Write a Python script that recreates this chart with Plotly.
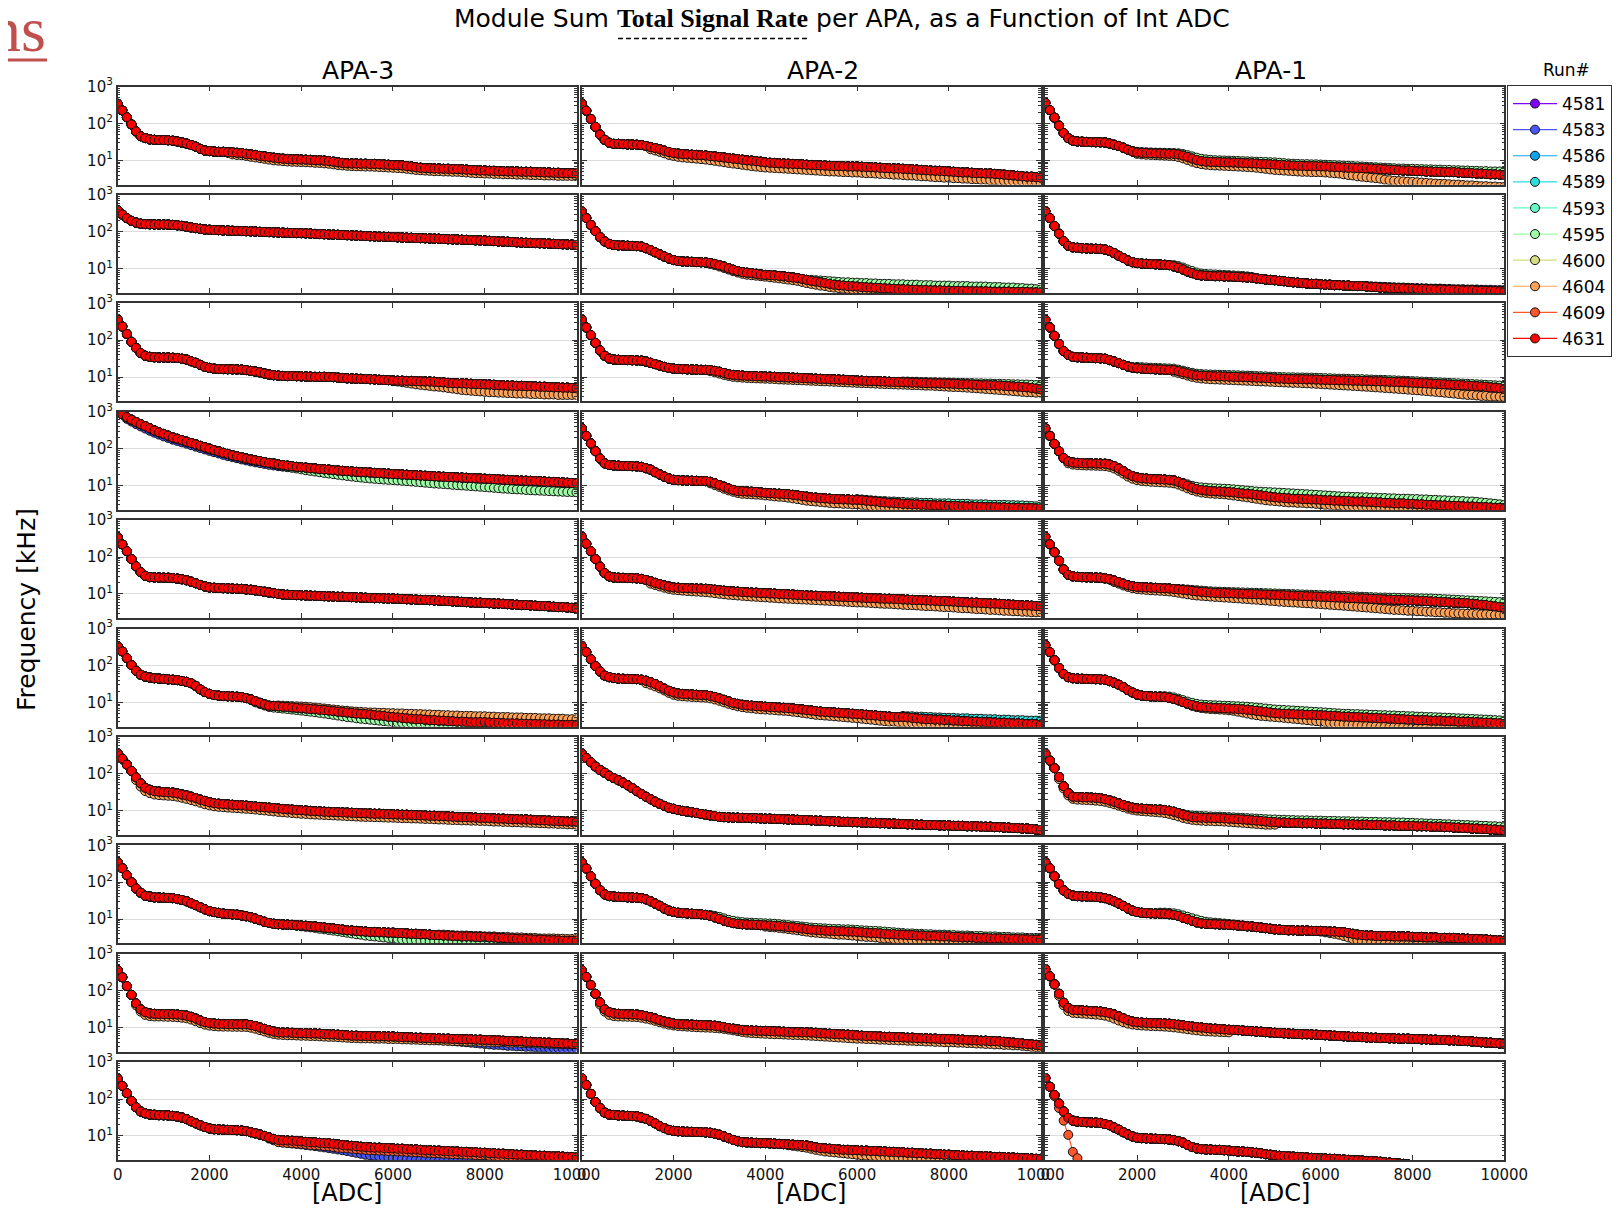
import plotly.graph_objects as go

W, H = 1621, 1214          # browser window
PAGE_MARGIN = 8            # default body margin of the page written by plotly
FIG_W, FIG_H = W - 2 * PAGE_MARGIN, H - 2 * PAGE_MARGIN
ADC = list(range(0, 10001, 100))
RUNS = ["4581", "4583", "4586", "4589", "4593", "4595", "4600", "4604", "4609", "4631"]
RUN_COLORS = ["#8000ff", "#4757fb", "#0ea4f0", "#2adddd", "#63fbc3",
              "#9cfba4", "#d4dd80", "#ffa256", "#ff562c", "#ff0000"]
APA_NAMES = ["APA-3", "APA-2", "APA-1"]
X_TICKS = [0, 2000, 4000, 6000, 8000, 10000]
X_TICK_TEXT = ["0", "2000", "4000", "6000", "8000", "10000"]
Y_TICKS = [10, 100, 1000]
Y_TICK_TEXT = ["10<sup>1</sup>", "10<sup>2</sup>", "10<sup>3</sup>"]
Y_MINOR = [2, 3, 4, 5, 6, 7, 8, 9, 20, 30, 40, 50, 60, 70, 80, 90,
           200, 300, 400, 500, 600, 700, 800, 900]

# ---------------- APA-3 (left column), run 4631 ----------------
A3R1_4631 = [340,226,147,94,61,45,40,37,36,35.5,35.5,35,34,32.5,30.5,28.5,26,23.5,20.5,18.5,17.8,
17.3,17,17,16.5,16.5,16,15.8,15,14.5,14,13.2,12.8,12.3,11.8,11.4,11.1,10.9,10.7,10.7,10.5,
10.4,10.3,10.1,10,9.8,9.6,9.2,8.8,8.5,8.3,8.2,8.2,8.1,8.1,8,8,7.9,7.7,7.6,7.5,
7.4,7.3,7.0,6.8,6.5,6.3,6.2,6.1,6.0,6.0,5.9,5.9,5.8,5.8,5.7,5.6,5.5,5.4,5.3,5.3,
5.2,5.2,5.1,5.1,5.0,5.0,5.0,4.9,4.9,4.9,4.8,4.8,4.7,4.7,4.6,4.6,4.5,4.5,4.5,4.4]
A3R2_4631 = [380,295,235,199,178,166,162,160,159,158,158,157,154,150,145,138,132,126,121,116,114,
112,111,109,108,107,106,105,104,103,102,100,99,98,97,96,95,94,93,92.5,92,
91,90,88,87,86,85,84,83,82,81,80,79,78,77,76,75,74,73.5,73,72,
71,70,69.5,69,68,67.5,67,66,65.5,65,64,63,62.5,62,61,60.5,60,59,58.5,58,
57,56,55,54.5,54,53,52,51,50.5,50,49.5,49,48.5,48,47,46.5,46,45.5,45,44]
A3R3_4631 = [360,236,148,91,62,45,38,35.5,34.5,34,34,34,33.5,33,31.5,30,27,24.5,21.5,19,17.8,
17,16.6,16.5,16.4,16.3,16.2,16,15.5,14.8,14.2,13.5,12.6,11.8,11.3,11,10.8,10.7,10.7,10.6,10.5,
10.4,10.3,10.2,10.2,10.2,10.1,10,9.7,9.5,9.3,9.2,9.1,9.0,8.9,8.8,8.7,8.5,8.4,8.3,8.1,
8.0,8.0,7.9,7.9,7.8,7.7,7.6,7.6,7.5,7.3,7.2,7.0,6.9,6.8,6.8,6.7,6.6,6.5,6.5,6.4,
6.3,6.2,6.1,6.0,5.9,5.9,5.8,5.8,5.7,5.7,5.6,5.5,5.5,5.4,5.3,5.3,5.2,5.2,5.1,5.0]
A3R4_4631 = [930,850,710,610,525,460,405,355,310,277,250,224,200,185,170,155,142,130,119,109,100,
91,84,77,72,66,62,58,54,51,48,46,43,41,39.5,37.5,36,34.5,33.5,32,31.3,
30.5,29.5,29,28,27.5,27,26,25.5,25,24.5,24,23.5,23,22.8,22.5,22,21.7,21.3,21,20.5,
20.2,19.9,19.6,19.3,19,18.7,18.4,18.1,17.8,17.5,17.3,17.1,16.9,16.6,16.4,16.2,16,15.7,15.5,15.3,
15.1,14.9,14.7,14.4,14.2,14,13.8,13.6,13.5,13.4,13.2,13,12.8,12.6,12.5,12.3,12.1,11.9,11.7,11.5]
A3R5_4631 = [345,220,144,88,56,39,31,28.5,28,27.8,27.6,27.5,27,26,25,23.5,21.5,19.5,17.5,16,15,
14.7,14.5,14.3,14.2,14,13.8,13.7,13.3,13,12.5,12,11.5,11,10.5,10,9.7,9.5,9.4,9.3,9.2,
9.1,9,8.9,8.8,8.7,8.6,8.5,8.4,8.4,8.3,8.2,8.1,8.0,7.9,7.8,7.7,7.7,7.6,7.5,7.5,
7.4,7.3,7.2,7.1,7.0,6.9,6.9,6.8,6.7,6.6,6.5,6.4,6.3,6.2,6.1,6.0,5.9,5.8,5.8,5.7,
5.6,5.5,5.5,5.4,5.3,5.2,5.1,5.0,5.0,4.9,4.8,4.7,4.7,4.6,4.5,4.4,4.4,4.3,4.2,4.1]
A3R6_4631 = [330,240,158,102,72,56,50,47,45,44,43,42,41,40,38,36,33,28,22.5,19,17,
15.8,15.2,14.8,14.6,14.4,14.2,13.9,13,12,10.7,9.7,8.8,8.1,8,7.8,7.6,7.5,7.3,7.1,6.9,
6.8,6.6,6.5,6.3,6.2,6.0,5.8,5.6,5.5,5.3,5.2,5.0,4.9,4.8,4.7,4.5,4.4,4.3,4.1,4.0,
3.9,3.8,3.7,3.6,3.5,3.5,3.4,3.3,3.3,3.2,3.2,3.1,3.1,3.0,3.0,2.95,2.9,2.9,2.9,2.9,
2.85,2.8,2.8,2.75,2.7,2.7,2.7,2.65,2.6,2.6,2.6,2.55,2.55,2.5,2.5,2.5,2.45,2.45,2.45,2.45]
A3R7_4631 = [355,258,177,120,80,55,42,37,34,33,32,31.5,31,29.5,27.5,26,24,22,20,18.5,17,
16,15.5,15.2,14.8,14.5,14.2,14,13.7,13.3,13,12.7,12.4,12.1,11.8,11.5,11.2,10.9,10.7,10.5,10.3,
10.1,9.9,9.7,9.6,9.4,9.3,9.2,9.1,9,8.9,8.8,8.7,8.6,8.5,8.4,8.3,8.3,8.2,8.1,8.0,
7.9,7.8,7.8,7.7,7.6,7.5,7.4,7.3,7.3,7.2,7.1,7.0,6.9,6.8,6.7,6.7,6.6,6.5,6.4,6.4,
6.3,6.2,6.1,6.1,6.0,5.9,5.9,5.8,5.8,5.7,5.6,5.5,5.5,5.4,5.3,5.3,5.2,5.1,5.1,5.0]
A3R8_4631 = [348,240,155,100,68,52,43,41,39,38.5,38,37.5,37,35,33,30.5,27,24,21,18.5,16.5,
15.5,14.8,14.1,13.8,13.5,13.2,12.6,12,11.3,10.3,9.4,8.5,7.9,7.5,7.3,7.2,7.1,7.0,6.8,6.7,
6.6,6.4,6.3,6.1,5.9,5.7,5.6,5.4,5.2,5.0,4.9,4.8,4.7,4.6,4.5,4.5,4.4,4.4,4.3,4.3,
4.2,4.2,4.1,4.0,4.0,3.9,3.9,3.8,3.7,3.7,3.6,3.6,3.5,3.5,3.4,3.4,3.4,3.3,3.3,3.3,
3.2,3.2,3.1,3.1,3.0,3.0,2.95,2.9,2.9,2.85,2.8,2.8,2.75,2.7,2.7,2.65,2.6,2.6,2.6,2.6]
A3R9_4631 = [355,230,133,77,45,31,26,24,23.5,23.3,23.2,23.1,23,22.5,22,21,19.5,17.5,15.5,14,13.2,
12.8,12.6,12.5,12.4,12.4,12.3,12.3,12.3,11.7,11,10,9.2,8.4,7.8,7.4,7.3,7.3,7.2,7.1,7.0,
7.0,6.9,6.9,6.8,6.7,6.6,6.5,6.4,6.3,6.2,6.0,6.0,5.9,5.9,5.9,5.8,5.8,5.8,5.7,5.7,
5.6,5.5,5.5,5.4,5.3,5.3,5.2,5.2,5.1,5.1,5.0,5.0,4.9,4.9,4.8,4.8,4.8,4.7,4.7,4.6,
4.6,4.5,4.5,4.4,4.3,4.3,4.2,4.2,4.1,4.1,4.0,4.0,3.9,3.9,3.8,3.8,3.7,3.7,3.6,3.6]
A3R10_4631 = [355,228,145,89,60,46,41,38,37.5,36.5,36.3,36,35,33.5,31.5,28.5,25,22,19.5,17.5,16,
15.2,15,14.8,14.6,14.5,14.3,14,13.5,12.6,11.8,10.9,10,9.1,8.3,7.8,7.6,7.5,7.4,7.3,7.1,
6.9,6.8,6.7,6.5,6.4,6.3,6.1,5.9,5.7,5.5,5.4,5.3,5.1,5.0,4.9,4.8,4.8,4.7,4.7,4.6,
4.5,4.5,4.4,4.3,4.3,4.2,4.1,4.1,4.0,4.0,3.9,3.9,3.8,3.8,3.7,3.7,3.6,3.6,3.5,3.5,
3.4,3.4,3.3,3.3,3.2,3.2,3.1,3.1,3.0,3.0,2.95,2.9,2.9,2.85,2.8,2.8,2.75,2.7,2.7,2.6]

# ---------------- APA-2 (middle column), run 4631 ----------------
A2R1_4631 = [345,222,132,81,50,36,30,28,28,27.5,27,26.8,26.5,26,24.5,23,21.5,20,18.3,16.8,15.8,
15.2,14.8,14.5,14.2,14,13.8,13.5,13,12.7,12.3,11.9,11.5,11.1,10.8,10.4,10,9.8,9.5,9.2,8.8,
8.6,8.5,8.3,8.2,8.1,8.0,7.9,7.8,7.6,7.5,7.4,7.3,7.2,7.1,7.0,7.0,6.9,6.8,6.8,6.8,
6.7,6.6,6.5,6.4,6.3,6.2,6.1,6.0,6.0,5.9,5.8,5.7,5.6,5.5,5.4,5.3,5.2,5.2,5.1,5.0,
4.9,4.8,4.7,4.7,4.6,4.5,4.5,4.4,4.4,4.3,4.2,4.1,4.0,3.9,3.8,3.7,3.6,3.6,3.5,3.4]
A2R2_4631 = [360,236,154,104,72,55,47,44,43,42.5,42,41.5,41,40,36,32,28,24.5,21.5,19,17.2,
16.2,15.8,15.6,15.4,15.2,15,14.8,14.3,13.5,12.4,11.4,10.3,9.4,8.6,8.1,7.8,7.6,7.3,7.0,6.8,
6.7,6.6,6.4,6.2,6.0,5.8,5.6,5.3,5.0,4.7,4.5,4.3,4.1,3.9,3.7,3.6,3.5,3.4,3.35,3.3,
3.2,3.15,3.1,3.05,3.0,2.95,2.9,2.85,2.8,2.8,2.75,2.7,2.7,2.65,2.65,2.6,2.6,2.6,2.55,2.55,
2.5,2.5,2.5,2.5,2.45,2.45,2.45,2.45,2.4,2.4,2.4,2.4,2.4,2.35,2.35,2.35,2.35,2.3,2.3,2.3]
A2R3_4631 = [360,222,138,85,53,38,32,30,29.5,29.2,29,28.7,28.4,28,26.5,24.5,22.5,20.5,19,17.8,17,
16.7,16.5,16.3,16.1,16,15.8,15.7,15.5,14.8,14,13,12,11.5,11.2,11,10.8,10.7,10.6,10.5,10.4,
10.3,10.2,10.0,9.9,9.8,9.7,9.6,9.5,9.4,9.2,9.1,9.0,8.9,8.8,8.7,8.6,8.5,8.4,8.3,8.1,
8.0,7.9,7.8,7.8,7.7,7.6,7.5,7.4,7.4,7.3,7.2,7.1,7.1,7.0,6.9,6.9,6.8,6.8,6.7,6.7,
6.6,6.5,6.4,6.4,6.3,6.2,6.1,6.1,6.0,6.0,5.9,5.8,5.7,5.6,5.5,5.4,5.3,5.1,4.9,4.7]
A2R4_4631 = [355,222,138,85,54,40,36,35,34.5,34,33.8,33.5,33,32,29.5,27,23,20,17.5,15.5,14.3,
14,13.8,13.6,13.5,13.4,13.3,13.2,12.6,11.5,10.3,9.3,8.3,7.6,7.1,7.0,6.9,6.8,6.7,6.5,6.3,
6.2,6.1,6.0,5.9,5.8,5.6,5.4,5.2,5.0,4.8,4.7,4.6,4.5,4.4,4.3,4.3,4.2,4.2,4.1,4.1,
4.0,3.9,3.8,3.7,3.6,3.5,3.4,3.4,3.3,3.2,3.2,3.1,3.1,3.0,3.0,2.95,2.9,2.9,2.85,2.8,
2.8,2.75,2.75,2.7,2.7,2.65,2.65,2.6,2.6,2.6,2.55,2.55,2.5,2.5,2.5,2.45,2.45,2.45,2.4,2.4]
A2R5_4631 = [355,230,144,88,55,37,30,28,27.5,27.3,27,26.8,26.5,25.5,24,22,20,18.5,17,15.8,15,
14.7,14.5,14.3,14.1,14,13.9,13.8,13.5,13,12.6,12.2,11.9,11.7,11.5,11.3,11.1,10.9,10.8,10.6,10.5,
10.3,10.2,10.0,9.9,9.7,9.6,9.4,9.3,9.1,9.0,8.9,8.8,8.7,8.6,8.5,8.4,8.3,8.2,8.1,8.0,
7.9,7.8,7.7,7.6,7.5,7.4,7.4,7.3,7.2,7.1,7.0,6.9,6.8,6.8,6.7,6.6,6.5,6.4,6.4,6.3,
6.2,6.1,6.0,5.9,5.8,5.8,5.7,5.6,5.5,5.5,5.4,5.3,5.2,5.1,5.0,4.9,4.9,4.8,4.7,4.6]
A2R6_4631 = [340,230,148,96,69,53,48,45.5,44,43.5,43,42.7,42.5,41,38.5,35,31.5,27.5,23.5,20.5,18.5,
17.3,16.9,16.6,16.3,16,15.8,15.6,14.9,14,12.8,11.7,10.6,9.6,9.1,8.6,8.3,8.1,7.9,7.8,7.6,
7.5,7.4,7.2,7.1,7.0,6.8,6.6,6.4,6.2,6.0,5.8,5.6,5.5,5.4,5.3,5.2,5.1,5.0,4.9,4.8,
4.7,4.6,4.5,4.4,4.3,4.2,4.1,4.0,4.0,4.0,3.9,3.8,3.7,3.6,3.5,3.5,3.4,3.4,3.3,3.3,
3.2,3.2,3.1,3.1,3.0,3.0,2.95,2.9,2.9,2.85,2.8,2.8,2.75,2.7,2.7,2.65,2.6,2.6,2.55,2.5]
A2R7_4631 = [355,268,206,158,127,107,89,77,67,58,49,41,34,28.5,24,20.5,17.6,15.4,13.5,12,11.3,
10.5,9.9,9.5,9.1,8.7,8.2,7.8,7.5,7.2,6.8,6.7,6.6,6.5,6.5,6.4,6.4,6.3,6.3,6.2,6.1,
6.1,6.0,6.0,5.9,5.8,5.8,5.7,5.6,5.6,5.5,5.4,5.4,5.3,5.2,5.2,5.1,5.0,5.0,4.9,4.9,
4.8,4.8,4.7,4.7,4.6,4.6,4.5,4.5,4.4,4.4,4.3,4.3,4.2,4.2,4.1,4.1,4.1,4.0,4.0,4.0,
3.9,3.9,3.9,3.8,3.8,3.8,3.7,3.7,3.7,3.6,3.6,3.5,3.5,3.4,3.4,3.3,3.3,3.2,3.1,3.0]
A2R8_4631 = [348,236,145,91,61,47,42,41,40,39.5,39,38.5,38,37,34.5,30.5,26.5,23,19.5,17,15.8,
14.9,14.6,14.3,14,13.8,13.6,13,12.2,11.2,10.2,9.1,8.4,7.8,7.5,7.3,7.2,7.1,7.0,6.9,6.8,
6.7,6.6,6.5,6.3,6.1,6.0,5.8,5.6,5.4,5.2,5.1,5.0,4.9,4.8,4.8,4.7,4.7,4.6,4.6,4.5,
4.4,4.3,4.2,4.2,4.1,4.0,3.9,3.9,3.8,3.8,3.7,3.7,3.6,3.6,3.5,3.5,3.5,3.4,3.4,3.4,
3.3,3.3,3.2,3.2,3.2,3.1,3.1,3.1,3.0,3.0,3.0,2.95,2.95,2.9,2.9,2.85,2.85,2.8,2.8,2.8]
A2R9_4631 = [360,236,142,82,48,31,26,24,23.5,23.2,23,22.7,22.5,21.5,20.3,19,17.5,15.9,14.5,13.6,12.8,
12.5,12.3,12.1,12,11.8,11.7,11.5,11.4,11.2,10.7,10.2,9.7,9.3,8.9,8.6,8.4,8.3,8.2,8.1,8.1,
8.0,7.9,7.8,7.7,7.6,7.5,7.5,7.4,7.4,7.3,7.2,7.0,6.9,6.8,6.7,6.6,6.5,6.4,6.3,6.1,
6.0,5.9,5.9,5.8,5.7,5.6,5.6,5.5,5.5,5.4,5.3,5.3,5.2,5.1,5.1,5.0,5.0,4.9,4.9,4.9,
4.8,4.7,4.7,4.6,4.5,4.5,4.4,4.4,4.3,4.3,4.2,4.1,4.0,3.9,3.8,3.7,3.6,3.5,3.4,3.3]
A2R10_4631 = [370,240,138,83,57,43,38,37,36,35.5,35,34.5,34,31.5,29,25.5,22,18.5,16.3,14.6,13.7,
13.4,13.2,13,12.9,12.8,12.7,12.5,12.2,11.5,10.8,9.7,8.7,7.8,7.2,6.8,6.7,6.6,6.5,6.4,6.4,
6.3,6.2,6.1,6.0,5.9,5.8,5.7,5.6,5.5,5.2,4.9,4.7,4.6,4.5,4.4,4.3,4.2,4.2,4.1,4.1,
4.0,4.0,3.9,3.9,3.8,3.8,3.7,3.7,3.6,3.6,3.5,3.5,3.4,3.4,3.3,3.3,3.2,3.2,3.1,3.1,
3.0,3.0,2.95,2.9,2.9,2.85,2.8,2.8,2.75,2.7,2.7,2.65,2.6,2.6,2.55,2.5,2.5,2.45,2.4,2.4]

# ---------------- APA-1 (right column), run 4631 ----------------
A1R1_4631 = [360,230,144,87,55,40,34,32.5,32,31.5,31.2,31,30.8,30.5,28.5,26.5,24.5,22,19.3,17.5,16.3,
16,15.8,15.6,15.4,15.3,15.2,15.1,15,14.5,13.5,12.4,11.2,10.2,9.6,9.2,9.1,9.0,8.9,8.8,8.8,
8.7,8.6,8.5,8.4,8.3,8.2,8.0,7.9,7.8,7.7,7.5,7.4,7.3,7.2,7.1,7.1,7.0,7.0,6.9,6.9,
6.8,6.7,6.6,6.5,6.4,6.3,6.3,6.2,6.2,6.1,6.0,5.9,5.8,5.7,5.6,5.5,5.4,5.3,5.3,5.2,
5.1,5.1,5.0,5.0,4.9,4.9,4.8,4.8,4.8,4.7,4.6,4.6,4.5,4.4,4.4,4.3,4.2,4.2,4.1,4.0]
A1R2_4631 = [360,236,144,89,56,42,38,37,36,35.5,35,34.8,34.5,33,30.5,26.5,22.5,19.5,16.7,15,14.2,
13.8,13.6,13.4,13.2,13,12.8,12.5,11.6,10.7,9.6,8.4,7.6,6.9,6.6,6.5,6.4,6.3,6.3,6.2,6.2,
6.1,6.0,5.9,5.8,5.7,5.5,5.3,5.1,5.0,4.9,4.7,4.6,4.4,4.3,4.2,4.1,4.0,3.9,3.9,3.8,
3.7,3.7,3.6,3.6,3.5,3.5,3.4,3.4,3.4,3.3,3.2,3.2,3.1,3.1,3.0,3.0,3.0,2.95,2.9,2.9,
2.85,2.85,2.8,2.8,2.75,2.75,2.7,2.7,2.65,2.65,2.6,2.6,2.6,2.55,2.55,2.5,2.5,2.5,2.45,2.45]
A1R3_4631 = [360,222,132,79,51,40,35.5,34.5,34,33.5,33,32.7,32.3,31.5,29,26.5,24,21.5,19.5,18.2,17.5,
17,16.7,16.5,16.3,16.1,15.9,15.7,15.5,14.5,13.5,12.6,11.8,11.2,11,10.8,10.7,10.6,10.5,10.4,10.3,
10.2,10.1,10.0,9.9,9.8,9.7,9.6,9.5,9.4,9.2,9.1,9.0,8.9,8.9,8.8,8.8,8.7,8.7,8.6,8.5,
8.4,8.4,8.3,8.2,8.2,8.1,8.0,8.0,7.9,7.9,7.8,7.7,7.7,7.6,7.5,7.4,7.4,7.3,7.2,7.1,
7.0,6.9,6.8,6.7,6.6,6.5,6.4,6.3,6.2,6.1,6.0,5.9,5.8,5.7,5.6,5.5,5.3,5.2,5.0,4.8]
A1R4_4631 = [355,222,135,85,56,45,42,41,40.5,40,39.8,39.5,39.2,39,37,33.5,29,24.5,20.5,18,16.5,
15.7,15.4,15.1,14.9,14.7,14.5,14.2,13.7,12.6,11.3,10,8.8,8,7.6,7.3,7.1,7.0,6.9,6.8,6.7,
6.5,6.3,6.1,6.0,5.8,5.6,5.4,5.2,5.0,4.8,4.7,4.6,4.5,4.4,4.4,4.3,4.3,4.2,4.2,4.1,
4.0,4.0,3.9,3.9,3.8,3.8,3.7,3.7,3.7,3.6,3.6,3.5,3.5,3.4,3.4,3.3,3.3,3.3,3.2,3.2,
3.1,3.1,3.0,3.0,2.95,2.9,2.9,2.85,2.8,2.8,2.75,2.7,2.7,2.65,2.6,2.6,2.55,2.5,2.5,2.45]
A1R5_4631 = [355,222,135,79,46,33,30,29,28.5,28.2,28,27.8,27.5,26.5,25,23,21,19,17.2,16.2,15.5,
15.2,15,14.8,14.6,14.4,14.2,14,13.6,13.3,12.9,12.5,12.1,11.7,11.4,11.1,10.9,10.7,10.6,10.5,10.4,
10.3,10.2,10.1,10,9.9,9.8,9.7,9.6,9.5,9.4,9.3,9.2,9.1,9.0,8.9,8.8,8.7,8.6,8.5,8.4,
8.3,8.2,8.1,8.0,7.9,7.8,7.7,7.6,7.6,7.5,7.4,7.3,7.2,7.1,7.0,6.9,6.9,6.8,6.7,6.7,
6.6,6.5,6.4,6.3,6.2,6.1,6.0,5.9,5.8,5.8,5.7,5.6,5.4,5.3,5.1,5.0,4.8,4.6,4.4,4.2]
A1R6_4631 = [355,230,138,85,59,48,45,44,43.5,43,42.7,42.4,42,41,37.5,34,30,25.8,21.5,18.5,16.2,
15.2,14.8,14.5,14.3,14.1,14,13.3,12.4,11.4,10.2,9.2,8.5,7.9,7.5,7.3,7.2,7.1,7.0,6.9,6.8,
6.7,6.6,6.5,6.3,6.1,5.9,5.7,5.5,5.3,5.1,5.0,4.9,4.9,4.8,4.7,4.7,4.6,4.6,4.5,4.5,
4.4,4.3,4.3,4.2,4.1,4.1,4.0,4.0,3.9,3.9,3.8,3.8,3.7,3.7,3.6,3.6,3.5,3.5,3.4,3.4,
3.3,3.3,3.3,3.2,3.2,3.2,3.1,3.1,3.1,3.0,3.0,3.0,2.9,2.9,2.85,2.8,2.8,2.75,2.7,2.6]
A1R7_4631 = [355,228,142,82,46,30,24,23.5,23.2,23,22.7,22.3,21.8,20.5,19,17.5,15.8,14.3,13,12.1,11.6,
11.4,11.2,11,10.8,10.7,10.5,10,9.4,8.6,7.8,7.2,6.7,6.6,6.5,6.4,6.4,6.3,6.3,6.2,6.1,
6.0,5.9,5.8,5.7,5.5,5.4,5.3,5.1,5.0,4.9,4.8,4.8,4.7,4.7,4.7,4.6,4.6,4.6,4.5,4.5,
4.5,4.4,4.4,4.4,4.3,4.3,4.3,4.2,4.2,4.2,4.1,4.1,4.1,4.0,4.0,4.0,3.9,3.9,3.9,3.9,
3.8,3.8,3.8,3.7,3.7,3.7,3.6,3.6,3.5,3.5,3.4,3.4,3.3,3.3,3.2,3.2,3.1,3.1,3.0,2.9]
A1R8_4631 = [348,240,145,89,60,48,43.5,42,41.5,41,40.5,40,39,37,34,30.5,26.5,22.8,19.5,17,15.6,
14.9,14.6,14.4,14.2,14.1,14,13.6,13,12.2,10.9,10,9,8.2,7.7,7.5,7.4,7.3,7.2,7.1,7.0,
6.9,6.7,6.6,6.4,6.3,6.1,5.9,5.7,5.5,5.3,5.2,5.1,5.0,5.0,4.9,4.9,4.9,4.8,4.8,4.8,
4.7,4.6,4.6,4.5,4.4,4.2,4.0,3.8,3.7,3.6,3.6,3.5,3.5,3.5,3.5,3.4,3.4,3.4,3.4,3.3,
3.3,3.3,3.2,3.2,3.2,3.1,3.1,3.1,3.1,3.0,3.0,2.95,2.9,2.9,2.85,2.8,2.75,2.7,2.65,2.6]
A1R9_4631 = [380,245,148,82,47,34,30,29.5,29,28.5,28,27.5,27,26,24.5,22.5,20,17.8,15.9,14.5,13.9,
13.6,13.4,13.3,13.1,13,12.9,12.7,12.4,11.9,11.5,11,10.6,10.3,10,9.7,9.4,9.3,9.1,8.9,8.7,
8.6,8.5,8.3,8.1,8.0,7.8,7.7,7.5,7.4,7.2,7.1,7.0,6.9,6.8,6.7,6.6,6.6,6.5,6.4,6.3,
6.2,6.1,6.0,5.9,5.8,5.7,5.6,5.6,5.5,5.4,5.3,5.3,5.2,5.2,5.1,5.1,5.0,5.0,5.0,4.9,
4.9,4.8,4.8,4.7,4.7,4.6,4.6,4.5,4.5,4.4,4.3,4.3,4.2,4.1,4.0,3.9,3.9,3.8,3.7,3.6]
A1R10_4631 = [370,215,129,75,46,31,26,24.5,24,23.5,23.2,23,22.5,21,19.5,17,14.8,12.6,11,9.7,8.9,
8.7,8.6,8.5,8.4,8.3,8.2,8.0,7.7,7.2,6.6,5.7,5.0,4.6,4.4,4.3,4.3,4.2,4.2,4.1,4.0,
3.9,3.8,3.8,3.7,3.6,3.5,3.4,3.2,3.1,3.0,2.9,2.85,2.8,2.75,2.7,2.65,2.6,2.55,2.5,2.5,
2.45,2.4,2.4,2.35,2.3,2.25,2.2,2.2,2.15,2.1,2.1,2.05,2.0,1.95,1.9,1.85,1.8,1.75,1.7,1.65,
1.6,1.55,1.5,1.45,1.4,1.35,1.3,1.25,1.2,1.15,1.1,1.05,1.0,0.95,0.9,0.85,0.8,0.75,0.7,0.65]

# ---------------- other runs where they differ from 4631 ----------------
A3R1_4604 = [14.5,14,13.8,13.2,12.5,12,11.5,11,10.5,10,9.8,9.5,9.3,9.2,9.1,9.0,
8.9,8.8,8.6,8.5,8.3,8.1,7.8,7.5,7.3,7.1,7.0,6.9,6.9,6.8,6.8,6.7,6.6,6.5,6.4,6.3,
6.2,6.1,5.9,5.7,5.5,5.4,5.3,5.2,5.1,5.1,5.0,5.0,4.9,4.9,4.8,4.7,4.6,4.5,4.5,4.4,
4.4,4.3,4.3,4.2,4.2,4.2,4.1,4.1,4.1,4.0,4.0,4.0,3.9,3.9,3.9,3.8,3.8,3.8,3.8,3.7]
A3R3_4604 = [7.8,7.6,7.3,7.0,6.7,6.4,6.2,6.0,5.8,5.6,5.5,5.3,5.1,4.9,4.7,4.5,4.4,4.3,4.2,4.1,4.0,
3.9,3.9,3.8,3.8,3.7,3.7,3.6,3.6,3.6,3.5,3.5,3.5,3.4,3.4,3.4,3.3,3.3,3.3,3.3,3.3]
A3R4_4595 = [36,34,32,30.5,29,27.5,
26,25,24,23,22,21.2,20.4,19.6,18.9,18.2,17.6,17,16.5,16,15.6,15.2,14.9,14.6,14.3,14.1,
13.8,13.5,13.2,12.9,12.6,12.3,12,11.7,11.4,11.2,11,10.8,10.5,10.3,10.1,9.9,9.7,9.5,9.3,9.1,
8.9,8.7,8.5,8.3,8.2,8,7.9,7.8,7.6,7.5,7.4,7.3,7.2,7.1,7,6.9,6.8,6.7,6.7,6.6]
A3R4_4583 = [640,540,460,400,350,305,270,240,215,195,175,162,148,136,124,113,104,95,87,80,
74,68,63,59,55,51,48,45,42.5,40.5,38.5,36.5,35,33.5,32.5,31.5,31,30.5,30]
A3R6_4604 = [8.2,8.1,8.0,7.9,7.8,7.7,7.6,7.4,7.2,7.0,6.8,6.6,6.4,6.2,6.0,5.9,5.7,5.6,5.5,5.4,
5.3,5.3,5.2,5.2,5.1,5.1,
5.0,5.0,4.9,4.9,4.8,4.8,4.7,4.7,4.6,4.6,4.5,4.5,4.4,4.4,4.3,4.3,4.3,4.2,4.2,4.2,
4.1,4.1,4.0,4.0,4.0,3.9,3.9,3.9,3.8,3.8,3.8,3.7,3.7,3.7,3.6,3.6,3.6,3.5,3.5,3.5]
A3R6_4595 = [10,9,8.2,7.5,7.2,7.0,6.8,6.6,6.4,6.2,6.0,5.8,5.6,5.4,5.2,5.0,4.8,4.6,4.4,4.2,
4.0,3.9,3.7,3.6,3.5,3.4,3.3,3.2,3.1,3.0,2.9,
2.85,2.8,2.75,2.7,2.65,2.6,2.55,2.5,2.5,2.45,2.4,2.4,2.35,2.35,2.3,2.3,2.25,2.25,2.2,2.2,
2.2,2.15,2.15,2.1,2.1,2.1,2.05,2.05,2.0,2.0,2.0,2.0,1.95,1.95,1.95,1.9,1.9,1.9,1.9,1.9]
A3R7_4604 = [68,45,34,30,27.5,26.5,26,25.5,25,24,22.5,21,19.5,18,16.5,15,14,13.2,12.8,12.5,
12.2,12,11.8,11.5,11.3,11.1,10.8,10.5,10.2,9.9,9.6,9.3,9.1,8.9,8.7,8.5,8.3,
8.2,8.0,7.9,7.8,7.7,7.6,7.5,7.4,7.3,7.2,7.1,7.0,6.9,6.8,6.8,6.7,6.7,6.6,6.5,6.5,
6.4,6.3,6.3,6.2,6.2,6.1,6.0,6.0,5.9,5.8,5.8,5.7,5.6,5.6,5.5,5.5,5.4,5.4,5.3,5.3,
5.2,5.1,5.1,5.0,5.0,4.9,4.9,4.8,4.8,4.7,4.7,4.6,4.6,4.5,4.5,4.4,4.4,4.3,4.3,4.2]
A3R8_4604 = [3.8,3.8,3.7,3.7,3.6,3.6,3.6,3.5,3.5,3.5,3.4,3.4,3.4,3.3,3.3,3.3,3.2,3.2,3.2,3.1,
3.1,3.1,3.0,3.0,3.0,3.0,2.95,2.95,2.9,2.9,2.9]
A3R8_4595 = [6.4,6.2,6.0,5.8,5.5,5.3,5.1,4.9,4.7,4.5,4.3,4.1,3.9,3.8,3.6,3.5,3.4,3.3,3.2,3.1,
3.0,2.9,2.8,2.8,2.7,2.7,2.6,2.6,2.5,2.5,2.5,
2.5,2.45,2.45,2.4,2.4,2.4,2.35,2.35,2.3,2.3,2.3,2.3,2.25,2.25,2.25,2.2,2.2,2.2,2.2,2.2,
2.15,2.15,2.15,2.1,2.1,2.1,2.1,2.1,2.1,2.1]
A3R9_4604 = [40,27,22,20.5,20,20,19.8,19.6,19.4,19,18.5,17.8,16.5,14.8,13.2,12,11.3,10.9,10.7,10.6,
10.6,10.5,10.5,10.4,10.4,9.9,9.3,
8.5,7.8,7.2,6.7,6.4,6.3,6.2,6.2,6.1,6.0,6.0,5.9,5.9,5.8,5.7,5.6,5.6,5.5,5.4,5.3,
5.2,5.2,5.1,5.1,5.1,5.0,5.0,5.0,4.9,4.9,
4.9,4.8,4.8,4.7,4.7,4.6,4.6,4.5,4.5,4.5,4.4,4.4,4.3,4.3,4.3,4.2,4.2,4.2,4.1,4.1,
4.1,4.0,4.0,4.0,3.9,3.9,3.9,3.8,3.8,3.8,3.7,3.7,3.7,3.6,3.6,3.6,3.5,3.5,3.5,3.5]
A3R9_4583 = [4.6,4.5,4.4,4.3,4.2,4.1,4.0,3.9,3.8,3.7,3.6,3.5,3.4,3.4,3.3,3.2,3.2,3.1,3.1,3.0,
3.0,2.9,2.9,2.9,2.8,2.8,2.8,2.7,2.7,2.7,2.7]
A3R10_4583 = [8.5,7.6,7.0,6.7,6.5,6.3,6.1,5.9,5.7,5.5,5.3,5.1,4.9,4.7,4.5,4.3,4.1,3.9,3.7,3.5,
3.3,3.1,3.0,2.9,2.8,2.7,2.6,2.5,2.45,2.4,2.35,2.3,2.25,2.2,2.15,2.1,2.1,2.1,
2.05,2.05,2.0,2.0,2.0,2.0,1.95,1.95,1.95,1.95,1.9,1.9,1.9,1.9,1.9,1.85,1.85,1.85,1.85,1.85,
1.8,1.8,1.8,1.8,1.8,1.8,1.8,1.75,1.75,1.75]
A3R10_4609 = [6.8,6.6,6.4,6.3,6.2,6.1,5.9,5.7,5.6,5.5,5.3,5.2,5.0,4.8,4.7,4.6,4.5,4.4,4.3,4.2,
4.1,4.1,4.0,4.0,3.9,3.9,3.8,3.8,3.7,3.7,3.6,3.6,3.5,3.5,3.4,3.4,3.3,3.3,3.2,3.2,
3.2,3.1,3.1,3.0,3.0,3.0,2.9,2.9,2.8,2.8,2.8,2.7,2.7,2.7,2.6,2.6,2.6,2.5,2.5,2.5,
2.45,2.45,2.4,2.4,2.4,2.35]

A2R1_4604 = [20,18.5,17,15.5,14,13.2,12.5,12,11.7,11.4,11.1,10.8,10.5,10.1,9.7,9.3,8.9,8.5,8.2,7.9,
7.6,7.3,7.0,6.8,6.6,6.4,
6.3,6.2,6.1,6.0,5.9,5.8,5.7,5.6,5.5,5.4,5.3,5.2,5.1,5.0,5.0,4.9,4.8,4.8,4.7,4.7,
4.6,4.5,4.5,4.4,4.3,4.3,4.2,4.1,4.1,4.0,3.9,3.9,3.8,3.7,3.7,3.6,3.5,3.5,3.4,3.4,
3.3,3.3,3.2,3.2,3.1,3.1,3.0,3.0,2.9,2.9,2.8,2.8,2.75,2.7,2.7,2.65,2.6,2.6,2.55,2.5]
A2R2_4595 = [5.0,4.9,4.8,4.7,4.6,4.5,4.4,4.3,4.3,4.2,4.2,4.1,4.1,4.0,4.0,3.9,3.9,3.9,3.8,3.8,
3.8,3.7,3.7,3.7,3.6,3.6,3.6,3.5,3.5,3.5,3.5,3.4,3.4,3.4,3.4,3.3,3.3,3.3,3.3,3.2,
3.2,3.2,3.1,3.1,3.1,3.0,3.0,2.9,2.9,2.8,2.7]
A2R2_4604 = [13.5,12.5,11.5,10.5,9.5,8.6,7.9,7.3,6.9,6.7,6.5,6.3,6.1,5.9,5.7,5.5,5.3,5.1,4.9,4.7,
4.4,4.1,3.9,3.7,3.5,3.4,3.2,3.1,3.0,2.9,2.85,2.8,2.75,
2.7,2.65,2.6,2.55,2.5,2.45,2.4,2.35,2.3,2.3,2.25,2.25,2.2,2.2,2.15,2.15,2.1,2.1,2.1,2.05,
2.05,2.05,2.0,2.0,2.0,2.0,1.95,1.95,1.95,1.95,1.9,1.9,1.9,1.9,1.9,1.85,1.85,1.85,1.85,1.85]
A2R3_4595 = [7.6,7.6,7.5,7.5,7.4,7.4,7.3,7.3,7.2,7.2,7.1,7.1,7.0,7.0,6.9,6.9,6.8,6.8,6.7,6.7,
6.6,6.6,6.5,6.5,6.4,6.4,6.3,6.3,6.2,6.1,6.0]
A2R3_4604 = [14.5,13.5,12.5,11.5,10.8,10.2,9.9,9.7,9.5,9.4,9.3,9.2,9.1,9.0,8.9,8.7,8.6,8.5,8.4,8.3,
8.2,8.1,8.0,7.9,7.8,7.7,7.6,7.5,7.4,7.3,7.2,7.1,7.0,6.9,6.9,6.8,6.7,6.6,6.5,6.5,
6.4,6.3,6.3,6.2,6.1,6.1,6.0,5.9,5.9,5.8,5.7,5.6,5.5,5.4,5.4,5.3,5.2,5.1,5.0,4.9,
4.8,4.7,4.6,4.5,4.4,4.3,4.2,4.1,4.0,3.9,3.9,3.8,3.8]
A2R4_4593 = [4.3,4.2,4.1,4.0,3.9,3.8,3.8,3.7,3.7,3.6,3.6,3.5,3.5,3.5,3.4,3.4,3.4,3.3,3.3,3.3,
3.3,3.2,3.2,3.2,3.2,3.1,3.1,3.1,3.1,3.0,3.0,3.0,3.0,2.95,2.95,2.9,2.9,2.85,2.8,2.75,2.7]
A2R4_4604 = [11.5,10.3,9.2,8.2,7.4,6.8,6.3,6.0,5.9,5.8,5.7,5.6,5.4,5.3,5.1,5.0,4.9,4.7,4.5,4.3,
4.1,3.9,3.8,3.7,3.6,3.5,3.4,3.3,3.3,3.2,3.2,3.1,3.1,
3.0,2.9,2.8,2.75,2.7,2.6,2.55,2.5,2.45,2.4,2.35,2.3,2.3,2.25,2.25,2.2,2.2,2.15,2.15,2.1,
2.1,2.1,2.05,2.05,2.0,2.0,2.0,2.0,1.95,1.95,1.95,1.95,1.9,1.9,1.9,1.9,1.9,1.9,1.85,1.85]
A2R5_4604 = [19,17.5,16,14.8,13.7,13,12.6,12.3,12.0,11.8,11.6,11.4,11.2,10.9,10.5,10.1,9.8,9.5,9.3,9.1,
8.9,8.7,8.5,8.4,8.2,8.1,7.9,7.8,7.6,7.5,7.4,7.3,7.2,7.1,7.0,6.9,6.8,6.7,6.6,6.5,
6.4,6.3,6.2,6.1,6.0,5.9,5.9,5.8,5.7,5.6,5.5,5.4,5.4,5.3,5.2,5.1,5.0,5.0,4.9,4.8,
4.7,4.7,4.6,4.5,4.4,4.4,4.3,4.2,4.1,4.1,4.0,3.9,3.9,3.8,3.7,3.7,3.6,3.5,3.5,3.4,
3.4,3.3,3.3,3.2,3.2,3.2]
A2R6_4589 = [4.3,4.2,4.2,4.1,4.1,4.0,4.0,3.9,3.9,3.8,3.8,3.8,3.7,3.7,3.7,3.6,3.6,3.6,3.5,3.5,
3.5,3.4,3.4,3.4,3.3,3.3,3.3,3.2,3.2,3.2,3.2]
A2R6_4604 = [33,30,27,24,21,18,16,15,14.6,14.3,14,13.8,13.6,13.4,12.8,12,11,10,9.1,8.4,
7.8,7.4,7.1,6.9,6.7,6.5,6.4,6.3,6.2,6.0,5.9,5.8,5.6,5.4,5.2,5.0,4.8,4.6,4.5,4.4,
4.3,4.2,4.1,4.0,3.9,3.8,3.7,3.6,3.5,3.4,3.3,3.2,3.1,3.0,3.0,2.9,2.85,2.8,2.75,2.7,
2.65,2.6,2.55,2.5,2.5,2.45,2.4,2.4,2.35,2.35,2.3,2.3,2.25,2.25,2.2,2.2,2.2,2.15,2.15,2.1,
2.1,2.1,2.05,2.05,2.0,2.0,2.0]
A2R8_4595 = [13,12.3,11.5,10.5,9.6,9.0,8.6,8.3,8.1,8.0,7.9,7.8,7.7,7.6,7.5,7.3,7.1,6.9,6.7,6.5,
6.3,6.1,5.9,5.8,5.7,5.6,5.5,5.4,5.4,5.3,5.3,5.2,5.1,
5.0,4.9,4.8,4.8,4.7,4.6,4.5,4.4,4.3,4.2,4.1,4.1,4.0,4.0,3.9,3.9,3.8,3.8,3.8,3.7,
3.7,3.6,3.6,3.6,3.5,3.5,3.5,3.4,3.4,3.4,3.3,3.3,3.3,3.2,3.2,3.2,3.1,3.1,3.1,3.0]
A2R8_4604 = [6.3,6.1,6.0,5.8,5.6,5.4,5.2,5.0,4.8,4.6,4.4,4.3,4.2,4.1,4.0,3.9,3.8,3.8,3.7,3.6,
3.5,3.4,3.3,3.3,3.2,3.1,3.0,3.0,2.9,2.85,2.8,2.75,2.7,2.7,2.65,2.6,2.6,2.55,2.5,2.5,
2.45,2.45,2.4,2.4,2.35,2.35,2.3,2.3,2.3,2.25,2.25,2.2,2.2,2.2,2.15,2.15,2.1,2.1,2.1,2.05,2.05]
A2R9_4604 = [42,27,22,20.5,20,19.8,19.6,19.4,19.2,18.5,17.5,16.5,15.2,14,12.8,12,11.4,11,10.8,10.6,
10.4,10.2,10.1,10,9.9,9.7,9.5,9.2,8.8,8.4,8.0,7.6,7.3,7.1,7.0,6.9,6.8,6.7,6.6,6.6,
6.5,6.4,6.3,6.3,6.2,6.1,6.0,5.9,5.8,5.7,5.6,5.5,5.4,5.3,5.2,5.1,5.0,5.0,4.9,4.9,
4.8,4.7,4.7,4.6,4.6,4.5,4.5,4.4,4.4,4.3,4.3,4.2,4.2,4.1,4.1,4.0,4.0,4.0,3.9,3.9,
3.8,3.8,3.7,3.7,3.6,3.6,3.5,3.5,3.4,3.4,3.3,3.3,3.2,3.1,3.0,2.95,2.9]
A2R10_4604 = [5.6,5.4,5.2,5.0,4.8,4.5,4.2,4.0,3.8,3.7,3.6,3.5,3.4,3.3,3.2,3.1,3.0,2.95,2.9,2.85,
2.8,2.75,2.7,2.65,2.6,2.55,2.5,2.45,2.4,2.4,2.35,2.3,2.3,2.25,2.25,2.2,2.2,2.15,2.15,2.1,
2.1,2.1,2.05,2.05,2.0,2.0,2.0,2.0,1.95,1.95,1.95,1.95,1.9,1.9,1.9,1.9]

A1R1_4595 = [17,16.8,16.6,16.4,16.2,16.1,16,15.9,15.8,15.5,14.8,13.8,12.8,11.8,11,10.6,10.3,10.1,10,9.9,
9.8,9.7,9.6,9.5,9.4,9.3,9.2,9.1,9.0,8.9,8.8,8.6,8.4,8.2,8.1,8.0,7.9,7.9,7.8,7.8,
7.7,7.6,7.5,7.4,7.3,7.2,7.1,7.0,6.9,6.8,6.7,6.6,6.5,6.4,6.3,6.2,6.1,6.0,6.0,5.9,
5.9,5.8,5.8,5.7,5.7,5.6,5.6,5.5,5.5,5.4,5.4,5.3,5.3,5.2,5.2,5.1,5.1,5.0,5.0,5.0,4.9]
A1R1_4604 = [15,14.5,14.2,14,13.8,13.6,13.4,13.2,13,12.3,11.3,10.2,9.2,8.4,7.9,7.6,7.4,7.3,7.2,7.1,
7.0,6.9,6.8,6.7,6.6,6.5,6.3,6.1,5.9,5.7,5.5,5.4,5.3,5.2,5.1,5.0,4.9,4.9,4.8,4.8,
4.8,4.7,4.6,4.5,4.4,4.2,4.0,3.9,3.7,3.6,3.5,3.4,3.3,3.2,3.0,2.9,2.8,2.75,2.7,2.65,
2.6,2.55,2.5,2.45,2.4,2.35,2.3,2.3,2.25,2.2,2.2,2.15,2.1,2.1,2.05,2.0,2.0,1.95,1.95,1.9,1.9]
A1R2_4595 = [12.5,11.8,10.8,9.6,8.7,7.9,7.4,7.2,7.1,7.0,6.9,6.8,6.7,6.6,6.5,6.4,6.2,6.0]
A1R2_4583 = [3.4,3.35,3.3,3.25,3.2,3.2,3.15,3.1,3.1,3.05,3.0,3.0,2.95,2.95,2.9,2.9,2.9,2.85,2.85,2.8,
2.8,2.8,2.75,2.75,2.75,2.7,2.7,2.7,2.65,2.65,2.65]
A1R3_4595 = [19,18.6,18.3,18,17.8,17.6,17.4,17.2,17,16,15,14,13.1,12.4,12.1,11.9,11.8,11.7,11.6,11.5,
11.4,11.3,11.2,11.1,11,10.9,10.7,10.6,10.5,10.3,10.2,10.1,10,9.9,9.9,9.8,9.8,9.7,9.7,9.6,
9.5,9.4,9.3,9.2,9.1,9.1,9.0,8.9,8.9,8.8,8.7,8.6,8.5,8.5,8.4,8.3,8.2,8.1,8.0,7.9,
7.8,7.7,7.6,7.5,7.4,7.3,7.2,7.1,7.0,6.9,6.8,6.7,6.6,6.5,6.4,6.3,6.2,6.1,6.0,5.9,5.8]
A1R3_4604 = [14,13,12,11,10.2,9.6,9.2,9.0,8.8,8.7,8.6,8.5,8.4,8.3,8.2,8.1,8.0,7.9,7.8,7.7,
7.6,7.5,7.4,7.3,7.2,7.1,7.0,7.0,6.9,6.8,6.7,6.6,6.5,6.4,6.3,6.2,6.1,6.0,5.9,5.8,
5.7,5.6,5.5,5.4,5.3,5.2,5.1,5.0,4.9,4.8,4.7,4.6,4.5,4.4,4.3,4.2,4.1,4.0,3.9,3.8,
3.7,3.6,3.5,3.4,3.3,3.3,3.2,3.1,3.1,3.0,3.0,2.95,2.9]
A1R4_4595 = [11.8,10.8,9.8,9.2,8.9,8.7,8.5,8.4,8.3,8.2,8.1,7.9,7.7,7.5,7.3,7.1,6.9,6.8,6.7,6.6,
6.5,6.4,6.3,6.2,6.1,6.0,5.9,5.8,5.7,5.6,5.5,5.4,5.3,5.2,5.1,5.0,5.0,4.9,4.9,4.8,
4.8,4.7,4.7,4.6,4.6,4.5,4.5,4.4,4.4,4.4,4.3,4.3,4.2,4.2,4.1,4.1,4.0,4.0,3.9,3.9,
3.8,3.8,3.7,3.7,3.6,3.5,3.4,3.3,3.2,3.1,3.0]
A1R4_4604 = [40,37,36,35.5,35,34.7,34.4,34,33.5,32,29,25,21,17.5,15.3,14,13.3,13,12.7,12.5,
12.3,12.1,11.9,11.5,10.6,9.5,8.4,7.5,6.9,6.5,6.3,6.1,6.0,5.9,5.8,5.6,5.4,5.2,5.0,4.8,
4.6,4.4,4.2,4.0,3.9,3.8,3.7,3.6,3.5,3.5,3.4,3.4,3.3,3.3,3.2,3.1,3.0,3.0,2.9,2.9,
2.8,2.8,2.75,2.7,2.7,2.65,2.6,2.6,2.55,2.5,2.5,2.45,2.45,2.4,2.4,2.35,2.35,2.3,2.3,2.25,
2.25,2.2,2.2,2.2,2.15,2.15,2.1,2.1,2.1,2.05,2.05,2.0,2.0,2.0,2.0,1.95]
A1R5_4595 = [13.5,13.2,12.9,12.6,12.3,12,11.8,11.6,11.5,11.4,11.3,11.2,11.1,11,10.9,10.8,10.7,10.6,10.5,10.4,
10.3,10.2,10.1,10,9.9,9.8,9.7,9.6,9.5,9.4,9.3,9.2,9.1,9.0,8.9,8.8,8.7,8.6,8.5,8.4,
8.3,8.2,8.1,8.0,8.0,7.9,7.9,7.8,7.8,7.7,7.7,7.6,7.6,7.5,7.5,7.4,7.3,7.2,7.1,7.0,
6.9,6.8,6.7,6.6,6.5,6.4,6.3,6.2,6.1,6.0,5.9]
A1R5_4604 = [21,19,17,15.5,14.3,13.6,13.2,12.9,12.6,12.4,12.2,12,11.7,11.3,10.8,10.3,9.8,9.4,9.1,8.9,
8.7,8.5,8.3,8.2,8.0,7.9,7.7,7.6,7.4,7.3,7.1,7.0,6.8,6.7,6.5,6.4,6.2,6.1,6.0,5.9,
5.8,5.7,5.6,5.5,5.4,5.3,5.2,5.1,5.0,4.9,4.8,4.7,4.6,4.5,4.4,4.3,4.2,4.1,4.0,3.9,
3.8,3.7,3.7,3.6,3.5,3.5,3.4,3.4,3.3,3.3,3.2,3.2,3.1,3.1,3.0,3.0,2.95,2.9,2.9,2.85,
2.8,2.8,2.75,2.7,2.7,2.65]
A1R6_4595 = [14.8,14.7,14.3,13.6,12.6,11.5,10.5,9.7,9.1,8.7,8.5,8.4,8.3,8.2,8.1,8.0,7.9,7.8,7.7,7.6,
7.4,7.2,7.0,6.8,6.6,6.4,6.3,6.2,6.1,6.0,5.9,5.8,5.7,5.6,5.5,5.4,5.3,5.2,5.1,5.0,
4.9,4.9,4.8,4.8,4.7,4.7,4.6,4.6,4.5,4.5,4.4,4.4,4.3,4.3,4.2,4.2,4.1,4.1,4.0,4.0,
3.95,3.9,3.85,3.8,3.75,3.7,3.65,3.6,3.55,3.5,3.45,3.4,3.35,3.3,3.25,3.2]
A1R6_4604 = [12.4,11.3,10.1,9.0,8.0,7.4,7.0,6.8,6.6,6.5,6.4,6.3,6.1,5.9,5.6,5.3,5.0,4.7,4.5,4.3,
4.2,4.1,4.0,3.9,3.8,3.7,3.6,3.5,3.4,3.3,3.2,3.1,3.0,2.9,2.8,2.7,2.6,2.55,2.5,2.45,
2.4,2.35,2.3,2.3,2.25,2.2,2.2,2.15,2.15,2.1,2.1,2.05,2.05,2.0,2.0,2.0,1.95,1.95,1.95,1.9,
1.9,1.9,1.9,1.85,1.85,1.85,1.85,1.8,1.8,1.8,1.8,1.8,1.8]
A1R7_4595 = [8.2,7.7,7.4,7.3,7.2,7.1,7.0,6.9,6.9,6.8,6.7,6.6,6.5,6.4,6.3,6.2,6.1,6.0,5.9,5.8,
5.8,5.7,5.7,5.6,5.6,5.5,5.5,5.5,5.4,5.4,5.4,5.3,5.3,5.3,5.2,5.2,5.2,5.1,5.1,5.1,
5.0,5.0,5.0,4.9,4.9,4.9,4.8,4.8,4.8,4.7,4.7,4.6,4.6,4.5,4.5,4.4,4.4,4.3,4.3,4.2,
4.2,4.1,4.1,4.0,4.0,3.9,3.9,3.8,3.8,3.7,3.6]
A1R7_4604 = [72,40,26,21,20,19.8,19.5,19.2,18.8,18.3,17.5,16.3,15,13.7,12.5,11.4,10.6,10.1,9.8,9.6,
9.4,9.2,9.0,8.7,8.2,7.6,7.0,6.4,6.0,5.7,5.5,5.4,5.3,5.3,5.2,5.2,5.1,5.0,4.9,4.8,
4.7,4.6,4.5,4.4,4.3,4.2,4.2,4.2]
A1R8_4595 = [15,15,14.8,14.4,13.6,12.6,11.6,10.6,9.8,9.0,8.5,8.2,8.0,7.8,7.6,7.4,7.2,7.0,6.8,6.6,6.4]
A1R8_4604 = [4.6,4.4,4.2,4.0,3.8,3.5,3.2,2.9,2.7,2.5,2.4,2.3,2.25,2.2,2.15,2.1,2.1,2.05,2.0,2.0,
2.0,1.95,1.95,1.95,1.9,1.9,1.9,1.9,1.85,1.85,1.85,1.85,1.8,1.8,1.8,1.8,1.8,1.8,1.8,1.8,1.8]
A1R9_4604 = [72,40,28,25,24.5,24,23.5,23,22.5,22,21,19.5,17.5,15.5,14,12.8,12.1,11.7,11.4,11.2,
11.0,10.9,10.8,10.6,10.4,10.1,9.8,9.4,9.0,8.7,8.4,8.1,7.9,7.8,7.7,7.6,7.5,7.4]
A1R10_4609 = [370,215,120,57,26,10.7,3.7,2.5]

RED = {
    (0, 0): A3R1_4631, (0, 1): A3R2_4631, (0, 2): A3R3_4631, (0, 3): A3R4_4631, (0, 4): A3R5_4631,
    (0, 5): A3R6_4631, (0, 6): A3R7_4631, (0, 7): A3R8_4631, (0, 8): A3R9_4631, (0, 9): A3R10_4631,
    (1, 0): A2R1_4631, (1, 1): A2R2_4631, (1, 2): A2R3_4631, (1, 3): A2R4_4631, (1, 4): A2R5_4631,
    (1, 5): A2R6_4631, (1, 6): A2R7_4631, (1, 7): A2R8_4631, (1, 8): A2R9_4631, (1, 9): A2R10_4631,
    (2, 0): A1R1_4631, (2, 1): A1R2_4631, (2, 2): A1R3_4631, (2, 3): A1R4_4631, (2, 4): A1R5_4631,
    (2, 5): A1R6_4631, (2, 6): A1R7_4631, (2, 7): A1R8_4631, (2, 8): A1R9_4631, (2, 9): A1R10_4631,
}
# (column, row, run, first ADC bin index, values, continues with 4631 afterwards)
OTHER = [
    (0, 0, "4604", 25, A3R1_4604, True),
    (0, 2, "4604", 60, A3R3_4604, True),
    (0, 3, "4583", 2, A3R4_4583, True), (0, 3, "4595", 35, A3R4_4595, True),
    (0, 5, "4595", 30, A3R6_4595, True), (0, 5, "4604", 35, A3R6_4604, True),
    (0, 6, "4604", 4, A3R7_4604, True),
    (0, 7, "4595", 40, A3R8_4595, True), (0, 7, "4604", 70, A3R8_4604, True),
    (0, 8, "4583", 70, A3R9_4583, True), (0, 8, "4604", 4, A3R9_4604, True),
    (0, 9, "4583", 33, A3R10_4583, True), (0, 9, "4609", 35, A3R10_4609, True),
    (1, 0, "4604", 15, A2R1_4604, True),
    (1, 1, "4595", 50, A2R2_4595, True), (1, 1, "4604", 28, A2R2_4604, True),
    (1, 2, "4595", 70, A2R3_4595, True), (1, 2, "4604", 28, A2R3_4604, True),
    (1, 3, "4593", 60, A2R4_4593, True), (1, 3, "4604", 28, A2R4_4604, True),
    (1, 4, "4604", 15, A2R5_4604, True),
    (1, 5, "4589", 70, A2R6_4589, True), (1, 5, "4604", 14, A2R6_4604, True),
    (1, 7, "4595", 28, A2R8_4595, True), (1, 7, "4604", 40, A2R8_4604, True),
    (1, 8, "4604", 4, A2R9_4604, True),
    (1, 9, "4604", 45, A2R10_4604, True),
    (2, 0, "4595", 20, A1R1_4595, True), (2, 0, "4604", 20, A1R1_4604, True),
    (2, 1, "4583", 70, A1R2_4583, True), (2, 1, "4595", 28, A1R2_4595, True),
    (2, 2, "4595", 20, A1R3_4595, True), (2, 2, "4604", 28, A1R3_4604, True),
    (2, 3, "4595", 30, A1R4_4595, True), (2, 3, "4604", 5, A1R4_4604, True),
    (2, 4, "4595", 30, A1R5_4595, True), (2, 4, "4604", 15, A1R5_4604, True),
    (2, 5, "4595", 25, A1R6_4595, True), (2, 5, "4604", 28, A1R6_4604, True),
    (2, 6, "4595", 30, A1R7_4595, True), (2, 6, "4604", 3, A1R7_4604, True),
    (2, 7, "4595", 25, A1R8_4595, True), (2, 7, "4604", 60, A1R8_4604, True),
    (2, 8, "4604", 3, A1R9_4604, True),
    (2, 9, "4609", 0, A1R10_4609, False),
]

# ---------------- layout geometry (window pixels) ----------------
COL_PX = [(117.7, 576.5), (581.7, 1040.7), (1045.3, 1504.3)]
ROW_TOP, ROW_STEP, ROW_H = 86.5, 108.4, 98.0
NROWS = 10
FONT = "DejaVu Sans"
FRAME = "#333333"

def px_x(p):
    return (p - PAGE_MARGIN) / FIG_W

def px_y(p):
    return 1 - (p - PAGE_MARGIN) / FIG_H

def series(red, start, vals, extend):
    n = len(ADC)
    y = list(red[:start]) + list(vals)
    if extend:
        y += list(red[len(y):])
    else:
        y += [None] * (n - len(y))
    return y[:n]

fig = go.Figure()
layout_axes = {}
for col in range(3):
    for row in range(NROWS):
        k = row * 3 + col
        n = k + 1
        xa = "x" if n == 1 else f"x{n}"
        ya = "y" if n == 1 else f"y{n}"
        red = list(RED[(col, row)])[:len(ADC)]
        red += [None] * (len(ADC) - len(red))
        per_run = {}
        for (c, r, run, start, vals, ext) in OTHER:
            if c == col and r == row:
                per_run[run] = series(red, start, vals, ext)
        for run, color in zip(RUNS, RUN_COLORS):
            y = per_run.get(run, red)
            fig.add_trace(go.Scatter(
                x=ADC, y=y, mode="lines+markers", name=run,
                legendgroup=run, showlegend=(k == 0),
                line=dict(color=color, width=1.2),
                marker=dict(size=9, color=color, line=dict(color="#111111", width=1.0)),
                xaxis=xa, yaxis=ya, hoverinfo="skip"))
        x0, x1 = COL_PX[col]
        top = ROW_TOP + ROW_STEP * row
        bot = top + ROW_H
        bottom_row = (row == NROWS - 1)
        layout_axes["xaxis" if n == 1 else f"xaxis{n}"] = dict(
            domain=[px_x(x0), px_x(x1)], anchor=ya, range=[0, 10000],
            tickmode="array", tickvals=X_TICKS, ticktext=X_TICK_TEXT,
            ticks="inside", ticklen=5,
            tickcolor=FRAME, showticklabels=bottom_row,
            tickfont=dict(family=FONT, size=15, color="#111"),
            showline=True, linecolor=FRAME, linewidth=1.6, mirror="ticks",
            showgrid=False, zeroline=False, automargin=False)
        layout_axes["yaxis" if n == 1 else f"yaxis{n}"] = dict(
            domain=[px_y(bot), px_y(top)], anchor=xa, type="log", range=[0.346, 3.0],
            tickmode="array", tickvals=Y_TICKS, ticktext=Y_TICK_TEXT,
            ticks="inside", ticklen=5, tickcolor=FRAME, showticklabels=(col == 0),
            tickfont=dict(family=FONT, size=15, color="#111"),
            minor=dict(tickmode="array", tickvals=Y_MINOR, ticks="inside",
                       ticklen=2.5, tickcolor=FRAME, showgrid=False),
            showline=True, linecolor=FRAME, linewidth=1.6, mirror="ticks",
            showgrid=True, gridcolor="#dcdcdc", gridwidth=1, zeroline=False,
            automargin=False)

annotations = []
COL_TITLE_X = [358, 823, 1271]
for name, cx in zip(APA_NAMES, COL_TITLE_X):
    annotations.append(dict(text=name, x=px_x(cx), y=px_y(70), xref="paper", yref="paper",
                            showarrow=False, xanchor="center", yanchor="middle",
                            font=dict(family=FONT, size=25, color="#000")))
for c in range(3):
    cx = (COL_PX[c][0] + COL_PX[c][1]) / 2
    annotations.append(dict(text="[ADC]", x=px_x(cx), y=px_y(1193), xref="paper", yref="paper",
                            showarrow=False, xanchor="center", yanchor="middle",
                            font=dict(family=FONT, size=24, color="#000")))
annotations.append(dict(text="Frequency [kHz]", x=px_x(26), y=px_y(610), xref="paper",
                        yref="paper", showarrow=False, textangle=-90,
                        xanchor="center", yanchor="middle",
                        font=dict(family=FONT, size=25, color="#000")))
annotations.append(dict(
    text=("Module Sum <span style=\"font-family:Liberation Serif;font-size:26px\">"
          "<b>Total Signal Rate</b></span> per APA, as a Function of Int ADC"),
    x=px_x(842), y=px_y(18.5), xref="paper", yref="paper", showarrow=False,
    xanchor="center", yanchor="middle", font=dict(family=FONT, size=25, color="#000")))
annotations.append(dict(text="Run#", x=px_x(1566), y=px_y(70), xref="paper", yref="paper",
                        showarrow=False, xanchor="center", yanchor="middle",
                        font=dict(family=FONT, size=17, color="#000")))
annotations.append(dict(text="ns", x=px_x(48), y=px_y(29), xref="paper", yref="paper",
                        showarrow=False, xanchor="right", yanchor="middle",
                        font=dict(family="Liberation Serif", size=64, color="#c0504d")))

shapes = [
    dict(type="line", xref="paper", yref="paper", x0=px_x(618), x1=px_x(808),
         y0=px_y(38.5), y1=px_y(38.5), line=dict(color="#000", width=1.5, dash="5px,3px")),
    dict(type="line", xref="paper", yref="paper", x0=px_x(0), x1=px_x(47),
         y0=px_y(60), y1=px_y(60), line=dict(color="#c0504d", width=3)),
]

fig.update_layout(
    width=FIG_W, height=FIG_H,
    margin=dict(l=0, r=0, t=0, b=0, pad=0, autoexpand=False),
    paper_bgcolor="white", plot_bgcolor="white",
    font=dict(family=FONT, color="#000"),
    showlegend=True,
    legend=dict(x=px_x(1507), y=px_y(85), xanchor="left", yanchor="top",
                bordercolor="#333", borderwidth=1, bgcolor="white",
                font=dict(family=FONT, size=17, color="#000"),
                itemwidth=44, tracegroupgap=1, traceorder="grouped"),
    annotations=annotations, shapes=shapes,
    **layout_axes)

fig.write_html("out.html", include_plotlyjs=True,
               config={"displayModeBar": False, "responsive": False})
